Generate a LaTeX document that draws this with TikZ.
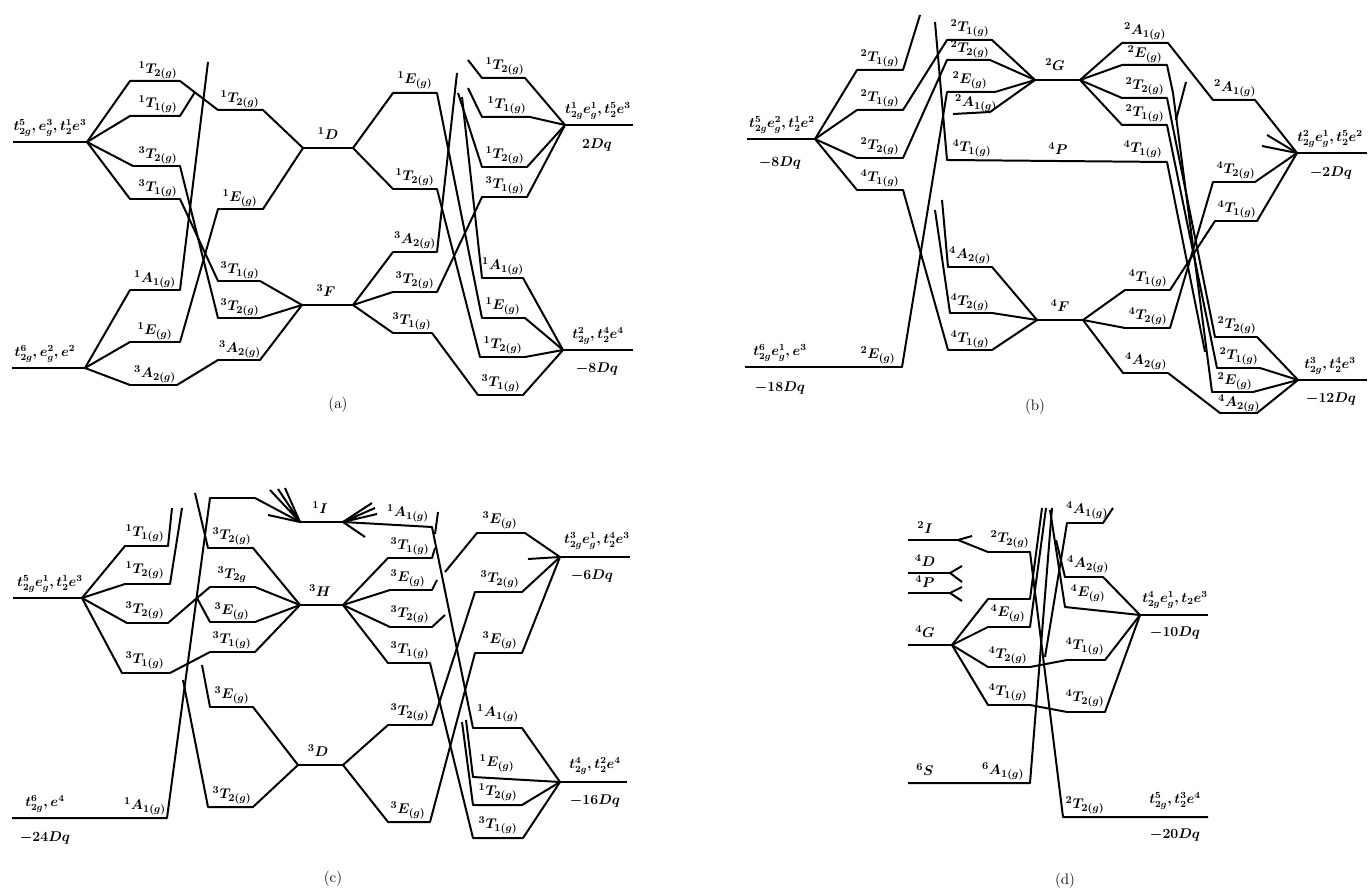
\documentclass[tikz,border=0pt]{standalone}
\usepackage{amsmath}
\tikzset{cfg/.style={font=\fontsize{11.5}{13}\selectfont\boldmath}}
\begin{document}
\begin{tikzpicture}[x=0.3mm,y=-0.3mm,line width=1.7pt,line join=round,
    font=\fontsize{13}{15}\selectfont\boldmath,
    every node/.style={inner sep=0.5pt}]
  \useasboundingbox (0,0) rectangle (1369,889);
  % ---------------- (a) ----------------
  \draw (13,142) -- (87,142);
  \draw (12,368) -- (85,368);
  \draw (87,142) -- (130,81) -- (180,81) -- (218,110) -- (263,110) -- (303,148);
  \draw (87,142) -- (130,116) -- (180,116) -- (195,92);
  \draw (87,142) -- (133,166) -- (180,166) -- (218,318) -- (260,318) -- (302,305);
  \draw (87,142) -- (130,199) -- (180,199) -- (218,281) -- (260,281) -- (302,305);
  \draw (85,368) -- (130,290) -- (180,290) -- (208,62);
  \draw (85,368) -- (130,342) -- (180,342) -- (218,209) -- (263,209) -- (303,148);
  \draw (85,368) -- (130,385) -- (177,385) -- (218,360) -- (260,360) -- (302,305);
  \draw (303,148) -- (353,148);
  \draw (302,305) -- (353,305);
  \draw (353,148) -- (393,93) -- (437,93) -- (482,318) -- (525,318) -- (563,350);
  \draw (353,148) -- (393,189) -- (437,189) -- (480,357) -- (525,357) -- (563,350);
  \draw (353,305) -- (393,252) -- (437,252) -- (457,73);
  \draw (353,305) -- (393,292) -- (437,292) -- (482,197) -- (527,197) -- (565,125);
  \draw (353,305) -- (393,333) -- (432,333) -- (478,395) -- (523,395) -- (563,350);
  \draw (468,60) -- (482,78) -- (525,78) -- (565,125);
  \draw (468,88) -- (482,117) -- (530,117) -- (565,125);
  \draw (458,93) -- (482,167) -- (527,167) -- (565,125);
  \draw (462,97) -- (482,278) -- (523,278) -- (563,350);
  \draw (565,125) -- (633,125);
  \draw (563,350) -- (633,350);
  \node[cfg] (acfg1) at (50,128) {$t_{2g}^5,e_g^3,t_2^1e^3$};
  \node[cfg] (acfg2) at (45,354) {$t_{2g}^6,e_g^2,e^2$};
  \node (al1) at (158,70) {$^1T_{2(g)}$};
  \node (al2) at (158,104) {$^1T_{1(g)}$};
  \node (al3) at (158,155) {$^3T_{2(g)}$};
  \node (al4) at (158,188) {$^3T_{1(g)}$};
  \node (al5) at (155,279) {$^1A_{1(g)}$};
  \node (al6) at (155,331) {$^1E_{(g)}$};
  \node (al7) at (155,374) {$^3A_{2(g)}$};
  \node (am1) at (240,99) {$^1T_{2(g)}$};
  \node (am2) at (240,198) {$^1E_{(g)}$};
  \node (am3) at (240,270) {$^3T_{1(g)}$};
  \node (am4) at (240,307) {$^3T_{2(g)}$};
  \node (am5) at (240,349) {$^3A_{2(g)}$};
  \node (aD) at (328,134) {$^1D$};
  \node (aF) at (326,291) {$^3F$};
  \node (an1) at (415,80) {$^1E_{(g)}$};
  \node (an2) at (415,177) {$^1T_{2(g)}$};
  \node (an3) at (415,240) {$^3A_{2(g)}$};
  \node (an4) at (415,280) {$^3T_{2(g)}$};
  \node (an5) at (412,321) {$^3T_{1(g)}$};
  \node (ar1) at (505,66) {$^1T_{2(g)}$};
  \node (ar2) at (507,105) {$^1T_{1(g)}$};
  \node (ar3) at (505,155) {$^1T_{2(g)}$};
  \node (ar4) at (505,185) {$^3T_{1(g)}$};
  \node (ar5) at (503,266) {$^1A_{1(g)}$};
  \node (ar6) at (503,306) {$^1E_{(g)}$};
  \node (ar7) at (503,345) {$^1T_{2(g)}$};
  \node (ar8) at (501,383) {$^3T_{1(g)}$};
  \node[cfg] (acfg3) at (598,111) {$t_{2g}^1e_g^1,t_2^5e^3$};
  \node (aDq1) at (597,145) {$2Dq$};
  \node[cfg] (acfg4) at (598,336) {$t_{2g}^2,t_2^4e^4$};
  \node (aDq2) at (597,369) {$-8Dq$};
  \node (acap) at (338,405) {(a)};
  % ---------------- (b) ----------------
  \draw (747,139) -- (815,139);
  \draw (815,139) -- (857,70) -- (903,70) -- (920,15);
  \draw (815,139) -- (857,110) -- (903,110) -- (947,40) -- (992,40) -- (1035,80);
  \draw (815,139) -- (857,158) -- (903,158) -- (947,60) -- (990,60) -- (1035,80);
  \draw (815,139) -- (857,190) -- (903,190) -- (948,350) -- (992,350) -- (1037,320);
  \draw (745,367) -- (902,367) -- (947,92) -- (995,92) -- (1035,80);
  \draw (953,114) -- (990,112) -- (1035,80);
  \draw (935,22) -- (947,160) -- (1167,162) -- (1205,352);
  \draw (942,200) -- (948,267) -- (992,267) -- (1037,320);
  \draw (935,210) -- (950,313) -- (992,313) -- (1037,320);
  \draw (1035,80) -- (1080,80);
  \draw (1037,320) -- (1083,320);
  \draw (1080,80) -- (1122,43) -- (1168,43) -- (1213,100) -- (1255,100) -- (1297,153);
  \draw (1080,80) -- (1122,65) -- (1167,65) -- (1173,93) -- (1212,392) -- (1253,392) -- (1298,380);
  \draw (1080,80) -- (1122,98) -- (1167,98) -- (1215,337) -- (1257,337) -- (1298,380);
  \draw (1080,80) -- (1122,125) -- (1167,125) -- (1217,368) -- (1260,368) -- (1298,380);
  \draw (1186,82) -- (1176,120);
  \draw (1083,320) -- (1125,290) -- (1170,290) -- (1215,221) -- (1257,221) -- (1297,153);
  \draw (1083,320) -- (1125,328) -- (1170,328) -- (1213,182) -- (1255,182) -- (1297,153);
  \draw (1083,320) -- (1123,373) -- (1168,373) -- (1220,413) -- (1257,413) -- (1298,380);
  \draw (1267,135) -- (1297,153);
  \draw (1262,146) -- (1297,153);
  \draw (1297,153) -- (1367,153);
  \draw (1298,380) -- (1367,380);
  \node[cfg] (bcfg1) at (782,125) {$t_{2g}^5e_g^2,t_2^1e^2$};
  \node (bDq1) at (780,163) {$-8Dq$};
  \node[cfg] (bcfg2) at (780,353) {$t_{2g}^6e_g^1,e^3$};
  \node (bDq2) at (780,388) {$-18Dq$};
  \node (bl1) at (880,58) {$^2T_{1(g)}$};
  \node (bl2) at (880,98) {$^2T_{1(g)}$};
  \node (bl3) at (880,146) {$^2T_{2(g)}$};
  \node (bl4) at (880,178) {$^4T_{1(g)}$};
  \node (bl5) at (878,355) {$^2E_{(g)}$};
  \node (bm1) at (970,28) {$^2T_{1(g)}$};
  \node (bm2) at (970,49) {$^2T_{2(g)}$};
  \node (bm3) at (970,80) {$^2E_{(g)}$};
  \node (bm4) at (976,103) {$^2A_{1(g)}$};
  \node (bm5) at (972,148) {$^4T_{1(g)}$};
  \node (bm6) at (970,255) {$^4A_{2(g)}$};
  \node (bm7) at (970,302) {$^4T_{2(g)}$};
  \node (bm8) at (970,339) {$^4T_{1(g)}$};
  \node (bG) at (1055,65) {$^2G$};
  \node (bP) at (1058,149) {$^4P$};
  \node (bF) at (1060,306) {$^4F$};
  \node (bn1) at (1145,31) {$^2A_{1(g)}$};
  \node (bn2) at (1145,54) {$^2E_{(g)}$};
  \node (bn3) at (1145,86) {$^2T_{2(g)}$};
  \node (bn4) at (1145,113) {$^2T_{1(g)}$};
  \node (bn5) at (1143,149) {$^4T_{1(g)}$};
  \node (bn6) at (1148,278) {$^4T_{1(g)}$};
  \node (bn7) at (1148,316) {$^4T_{2(g)}$};
  \node (bn8) at (1146,361) {$^4A_{2(g)}$};
  \node (br1) at (1235,88) {$^2A_{1(g)}$};
  \node (br2) at (1236,170) {$^4T_{2(g)}$};
  \node (br3) at (1237,209) {$^4T_{1(g)}$};
  \node (br4) at (1237,325) {$^2T_{2(g)}$};
  \node (br5) at (1239,356) {$^2T_{1(g)}$};
  \node (br6) at (1235,381) {$^2E_{(g)}$};
  \node (br7) at (1239,403) {$^4A_{2(g)}$};
  \node[cfg] (bcfg3) at (1330,139) {$t_{2g}^2e_g^1,t_2^5e^2$};
  \node (bDq3) at (1331,173) {$-2Dq$};
  \node[cfg] (bcfg4) at (1330,366) {$t_{2g}^3,t_2^4e^3$};
  \node (bDq4) at (1331,399) {$-12Dq$};
  \node (bcap) at (1035,407) {(b)};
  % ---------------- (c) ----------------
  \draw (13,598) -- (82,598);
  \draw (82,598) -- (125,546) -- (168,546) -- (172,508);
  \draw (82,598) -- (125,584) -- (170,584) -- (182,508);
  \draw (82,598) -- (127,623) -- (168,623) -- (197,598) -- (210,587) -- (255,587) -- (300,605);
  \draw (82,598) -- (122,673) -- (170,673) -- (210,652) -- (255,652) -- (300,605);
  \draw (12,818) -- (167,818) -- (210,498) -- (255,498) -- (300,522);
  \draw (195,493) -- (208,548) -- (253,548) -- (300,605);
  \draw (197,598) -- (210,622) -- (255,622) -- (300,605);
  \draw (202,665) -- (210,707) -- (253,707) -- (298,765);
  \draw (183,680) -- (208,807) -- (253,807) -- (298,765);
  \draw (300,522) -- (343,522);
  \draw (300,605) -- (343,605);
  \draw (298,765) -- (343,765);
  \draw (270,490) -- (300,522) -- (278,489);
  \draw (285,488) -- (300,522) -- (268,515);
  \draw (375,508) -- (343,522) -- (377,514);
  \draw (372,503) -- (343,522) -- (365,537);
  \draw (343,522) -- (432,527) -- (473,728) -- (522,728) -- (560,782);
  \draw (438,512) -- (435,534);
  \draw (343,605) -- (388,558) -- (432,558) -- (435,548);
  \draw (343,605) -- (390,590) -- (432,590) -- (437,580);
  \draw (343,605) -- (390,627) -- (432,627) -- (445,615);
  \draw (343,605) -- (388,663) -- (430,663) -- (473,838) -- (523,838) -- (560,782);
  \draw (343,765) -- (388,725) -- (432,725) -- (475,592) -- (522,592) -- (560,557);
  \draw (343,765) -- (388,822) -- (430,822) -- (475,653) -- (522,653) -- (560,557);
  \draw (445,572) -- (477,533) -- (525,533) -- (560,557);
  \draw (528,559) -- (560,557);
  \draw (466,720) -- (473,777) -- (560,782);
  \draw (462,722) -- (473,805) -- (522,805) -- (560,782);
  \draw (560,557) -- (630,557);
  \draw (560,782) -- (627,782);
  \node[cfg] (ccfg1) at (50,584) {$t_{2g}^5e_g^1,t_2^1e^3$};
  \node[cfg] (ccfg2) at (45,804) {$t_{2g}^6,e^4$};
  \node (cDq1) at (45,838) {$-24Dq$};
  \node (cl1) at (145,533) {$^1T_{1(g)}$};
  \node (cl2) at (145,570) {$^1T_{2(g)}$};
  \node (cl3) at (145,610) {$^3T_{2(g)}$};
  \node (cl4) at (145,660) {$^3T_{1(g)}$};
  \node (cl5) at (145,806) {$^1A_{1(g)}$};
  \node (cm1) at (232,536) {$^3T_{2(g)}$};
  \node (cm2) at (232,575) {$^3T_{2g}$};
  \node (cm3) at (232,611) {$^3E_{(g)}$};
  \node (cm4) at (232,640) {$^3T_{1(g)}$};
  \node (cm5) at (232,695) {$^3E_{(g)}$};
  \node (cm6) at (232,795) {$^3T_{2(g)}$};
  \node (cI) at (320,508) {$^1I$};
  \node (cH) at (320,591) {$^3H$};
  \node (cD) at (318,751) {$^3D$};
  \node (cn1) at (408,513) {$^1A_{1(g)}$};
  \node (cn2) at (410,546) {$^3T_{1(g)}$};
  \node (cn3) at (408,578) {$^3E_{(g)}$};
  \node (cn4) at (410,614) {$^3T_{2(g)}$};
  \node (cn5) at (410,650) {$^3T_{1(g)}$};
  \node (cn6) at (410,712) {$^3T_{2(g)}$};
  \node (cn7) at (408,810) {$^3E_{(g)}$};
  \node (cr1) at (500,520) {$^3E_{(g)}$};
  \node (cr2) at (500,579) {$^3T_{2(g)}$};
  \node (cr3) at (500,640) {$^3E_{(g)}$};
  \node (cr4) at (498,713) {$^1A_{1(g)}$};
  \node (cr5) at (497,763) {$^1E_{(g)}$};
  \node (cr6) at (498,792) {$^1T_{2(g)}$};
  \node (cr7) at (498,825) {$^3T_{1(g)}$};
  \node[cfg] (ccfg3) at (597,541) {$t_{2g}^3e_g^1,t_2^4e^3$};
  \node (cDq2) at (592,576) {$-6Dq$};
  \node[cfg] (ccfg4) at (595,766) {$t_{2g}^4,t_2^2e^4$};
  \node (cDq3) at (595,801) {$-16Dq$};
  \node (ccap) at (333,879) {(c)};
  % ---------------- (d) ----------------
  \draw (908,540) -- (958,540) -- (972,536);
  \draw (958,540) -- (988,552) -- (1030,552) -- (1063,817) -- (1208,817);
  \draw (908,573) -- (950,573);
  \draw (962,566) -- (950,573) -- (962,582);
  \draw (908,593) -- (950,593);
  \draw (962,587) -- (950,593) -- (962,601);
  \draw (908,645) -- (952,645);
  \draw (952,645) -- (988,599) -- (1030,599) -- (1042,508);
  \draw (952,645) -- (988,627) -- (1030,627) -- (1046,508);
  \draw (952,645) -- (988,667) -- (1030,667) -- (1067,660) -- (1105,660) -- (1140,615);
  \draw (952,645) -- (988,705) -- (1030,705) -- (1067,712) -- (1105,712) -- (1140,615);
  \draw (908,783) -- (1030,783) -- (1052,508);
  \draw (1045,657) -- (1067,523) -- (1103,523) -- (1113,508);
  \draw (1056,540) -- (1065,577) -- (1103,577) -- (1140,615);
  \draw (1050,510) -- (1065,607) -- (1140,615);
  \draw (1140,615) -- (1208,615);
  \node (dI) at (925,528) {$^2I$};
  \node (dD) at (925,561) {$^4D$};
  \node (dP) at (925,582) {$^4P$};
  \node (dG) at (925,632) {$^4G$};
  \node (dS) at (925,770) {$^6S$};
  \node (dl1) at (1010,539) {$^2T_{2(g)}$};
  \node (dl2) at (1008,613) {$^4E_{(g)}$};
  \node (dl3) at (1008,655) {$^4T_{2(g)}$};
  \node (dl4) at (1008,692) {$^4T_{1(g)}$};
  \node (dl5) at (1003,771) {$^6A_{1(g)}$};
  \node (dr1) at (1087,510) {$^4A_{1(g)}$};
  \node (dr2) at (1088,564) {$^4A_{2(g)}$};
  \node (dr3) at (1088,593) {$^4E_{(g)}$};
  \node (dr4) at (1085,646) {$^4T_{1(g)}$};
  \node (dr5) at (1085,698) {$^4T_{2(g)}$};
  \node (dr6) at (1085,805) {$^2T_{2(g)}$};
  \node[cfg] (dcfg1) at (1175,600) {$t_{2g}^4e_g^1,t_2e^3$};
  \node (dDq1) at (1175,633) {$-10Dq$};
  \node[cfg] (dcfg2) at (1175,801) {$t_{2g}^5,t_2^3e^4$};
  \node (dDq2) at (1175,835) {$-20Dq$};
  \node (dcap) at (1065,881) {(d)};
\end{tikzpicture}
\end{document}
